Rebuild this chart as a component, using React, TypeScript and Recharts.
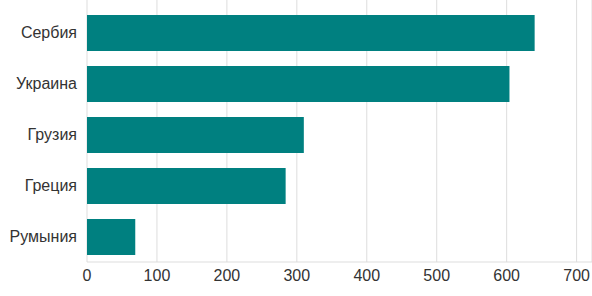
import React from 'react';
import { BarChart, Bar, XAxis, YAxis, CartesianGrid } from 'recharts';

const countries = ['Сербия', 'Украина', 'Грузия', 'Греция', 'Румыния'];
const counts = [640, 604, 310, 284, 69];
const xTicks = [0, 100, 200, 300, 400, 500, 600, 700];

const data = countries.map((country, i) => ({ country, value: counts[i] }));

const font = { fontFamily: 'Liberation Sans, Arial, sans-serif', fontSize: 16, fill: '#333' };

const App = () => {
  return (
    <div style={{ position: 'absolute', left: 0, top: 0, width: 592, height: 296, background: '#fff' }}>
      <BarChart
        width={592}
        height={296}
        layout="vertical"
        data={data}
        margin={{ top: 0, right: 0, left: 0, bottom: 0 }}
      >
        <CartesianGrid horizontal={false} stroke="#dddddd" />
        <XAxis
          type="number"
          domain={[0, 722]}
          ticks={xTicks}
          allowDataOverflow
          height={34}
          tickLine={false}
          axisLine={{ stroke: '#dddddd' }}
          tick={font}
          tickMargin={2}
        />
        <YAxis
          type="category"
          dataKey="country"
          width={87}
          axisLine={false}
          tickLine={false}
          tick={font}
          tickMargin={4}
          padding={{ top: 7, bottom: 0 }}
        />
        <Bar dataKey="value" fill="#008080" barSize={36} isAnimationActive={false} />
      </BarChart>
    </div>
  );
};

export default App;
